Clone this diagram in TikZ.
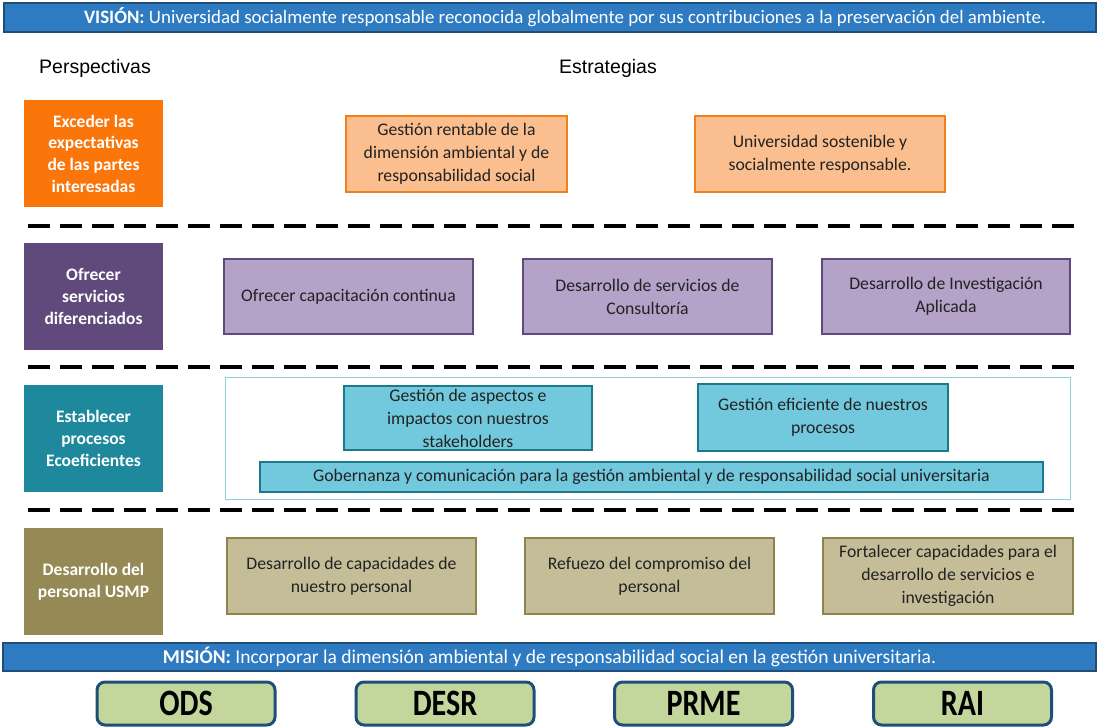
\documentclass[tikz,border=0pt]{standalone}
\usepackage{fontspec}
\setmainfont{Carlito}
\newfontfamily\arialf{Liberation Sans}
\definecolor{barblue}{HTML}{2F7BC1}
\definecolor{barborder}{HTML}{1F4E79}
\definecolor{porange}{HTML}{FA760A}
\definecolor{sorange}{HTML}{FBBF8F}
\definecolor{borange}{HTML}{F0801E}
\definecolor{ppurple}{HTML}{5F4A7B}
\definecolor{spurple}{HTML}{B4A2C8}
\definecolor{bpurple}{HTML}{5F4A7B}
\definecolor{pteal}{HTML}{1E899C}
\definecolor{steal}{HTML}{72C8DC}
\definecolor{bteal}{HTML}{1B7A8A}
\definecolor{fteal}{HTML}{8FCFD6}
\definecolor{polive}{HTML}{958A55}
\definecolor{solive}{HTML}{C5BD98}
\definecolor{bolive}{HTML}{8C8450}
\definecolor{sgreen}{HTML}{C3D69B}
\definecolor{txt}{HTML}{222222}
\tikzset{
  bar/.style={draw=barborder, line width=1.5pt, fill=barblue, text=white, inner sep=0pt,
    font=\fontsize{18.9}{21}\selectfont},
  persp/.style={fill=#1, text=white, align=center, inner sep=0pt,
    minimum width=139pt, minimum height=107pt,
    font=\bfseries\fontsize{17.5}{21.7}\selectfont},
  strat/.style n args={2}{fill=#1, draw=#2, line width=2.5pt, text=txt, align=center, inner sep=0pt,
    font=\fontsize{17.7}{23}\selectfont},
  sep/.style={line width=4pt, dash pattern=on 22pt off 10pt},
  tag/.style={fill=sgreen, draw=barborder, line width=3pt, rounded corners=8pt,
    minimum width=178pt, minimum height=43pt, inner sep=0pt,
    font=\bfseries\fontsize{31}{34}\selectfont},
  head/.style={font=\arialf\fontsize{19.5}{21}\selectfont, text=black}
}
\newcommand{\tall}[1]{\scalebox{0.97}[1.2]{#1}}
\begin{document}
\begin{tikzpicture}[x=1pt,y=-1pt]
\useasboundingbox (0,0) rectangle (1100,727);
% vision
\node[bar, minimum width=1092pt, minimum height=29pt] (vision) at (550,17.5) {};
\node[text=white, font=\fontsize{18.9}{21}\selectfont, inner sep=0pt] (visiontext) at (565,17.5)
  {\textbf{VISIÓN:} Universidad socialmente responsable reconocida globalmente por sus contribuciones a la preservación del ambiente.};
\node[head] (hp) at (95,68) {Perspectivas};
\node[head] (he) at (608,68) {Estrategias};
% row 1
\node[persp=porange] (p1) at (93.5,153.5) {Exceder las\\expectativas\\de las partes\\interesadas};
\node[strat={sorange}{borange}, minimum width=221pt, minimum height=76pt] (s11) at (456.5,154)
  {\rule{0pt}{3pt}Gestión rentable de la\\dimensión ambiental y de\\responsabilidad social};
\node[strat={sorange}{borange}, minimum width=250pt, minimum height=76pt] (s12) at (820,154)
  {Universidad sostenible y\\socialmente responsable.};
\coordinate (d1a) at (28,226); \coordinate (d1b) at (1074,226);
\draw[sep] (d1a) -- (d1b);
% row 2
\node[persp=ppurple] (p2) at (93.5,296.5) {Ofrecer\\servicios\\diferenciados};
\node[strat={spurple}{bpurple}, minimum width=249pt, minimum height=75pt] (s21) at (348.5,296.5)
  {Ofrecer capacitación continua};
\node[strat={spurple}{bpurple}, minimum width=249pt, minimum height=75pt] (s22) at (647.5,296.5)
  {Desarrollo de servicios de\\Consultoría};
\node[strat={spurple}{bpurple}, minimum width=248pt, minimum height=75pt] (s23) at (946,296.5)
  {Desarrollo de Investigación\\Aplicada};
\coordinate (d2a) at (28,367); \coordinate (d2b) at (1074,367);
\draw[sep] (d2a) -- (d2b);
% row 3
\node[persp=pteal] (p3) at (93.5,438.5) {Establecer\\procesos\\Ecoeficientes};
\node[draw=fteal, line width=1pt, minimum width=845pt, minimum height=122pt, inner sep=0pt] (frame) at (647.5,438) {};
\node[strat={steal}{bteal}, minimum width=248pt, minimum height=64pt] (s31) at (468,418)
  {Gestión de aspectos e\\impactos con nuestros\\stakeholders};
\node[strat={steal}{bteal}, minimum width=250pt, minimum height=67pt] (s32) at (823,417.5)
  {Gestión eficiente de nuestros\\procesos};
\node[strat={steal}{bteal}, minimum width=783pt, minimum height=30pt] (s33) at (651.5,477)
  {Gobernanza\ y comunicación para la gestión ambiental y de responsabilidad\ social universitaria};
\coordinate (d3a) at (28,510); \coordinate (d3b) at (1074,510);
\draw[sep] (d3a) -- (d3b);
% row 4
\node[persp=polive] (p4) at (93.5,581.5) {Desarrollo\ del\\personal USMP};
\node[strat={solive}{bolive}, minimum width=249pt, minimum height=76pt] (s41) at (351.5,576)
  {Desarrollo de capacidades de\\nuestro\ personal};
\node[strat={solive}{bolive}, minimum width=249pt, minimum height=76pt] (s42) at (649.5,576)
  {Refuezo del compromiso del\\personal};
\node[strat={solive}{bolive}, minimum width=250pt, minimum height=76pt] (s43) at (948,576)
  {Fortalecer capacidades para el\\desarrollo de servicios e\\investigación};
% mission
\node[bar, minimum width=1093pt, minimum height=28pt, font=\fontsize{19.5}{21}\selectfont] (mision) at (549.5,657)
  {\textbf{MISIÓN:} Incorporar la dimensión ambiental y de responsabilidad social en la gestión universitaria.};
% tags
\node[tag] (ods) at (186,703.5) {\tall{ODS}};
\node[tag] (desr) at (445,703.5) {\tall{DESR}};
\node[tag] (prme) at (703.5,703.5) {\tall{PRME}};
\node[tag] (rai) at (962.5,703.5) {\tall{RAI}};
\end{tikzpicture}
\end{document}
